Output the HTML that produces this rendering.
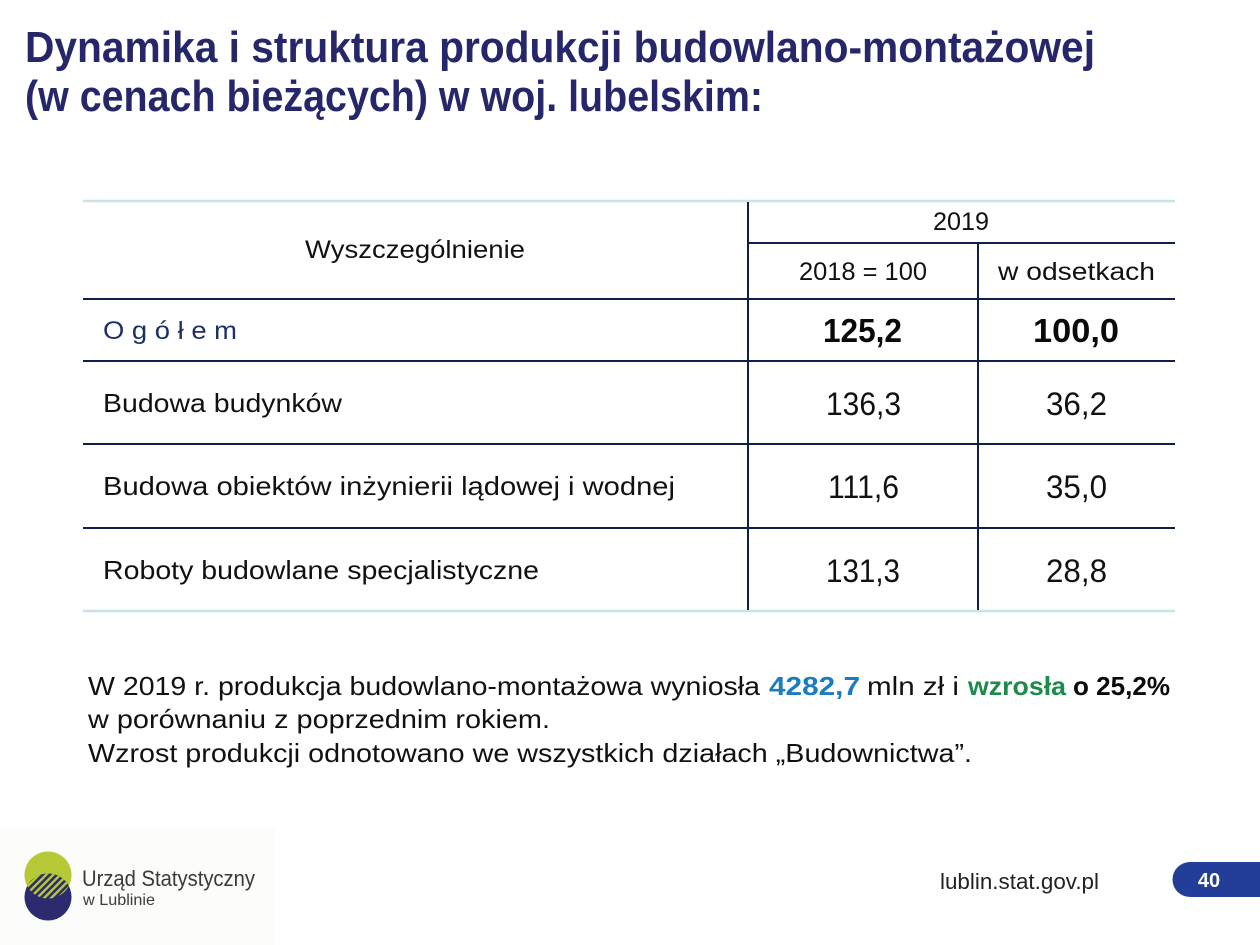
<!DOCTYPE html>
<html>
<head>
<meta charset="utf-8">
<style>
  html,body{margin:0;padding:0;background:#ffffff;}
  svg{display:block;}
  text{font-family:"Liberation Sans","DejaVu Sans",sans-serif;}
</style>
</head>
<body>
<svg width="1260" height="945" viewBox="0 0 1260 945" xmlns="http://www.w3.org/2000/svg">
  <defs>
    <clipPath id="lens">
      <circle cx="48" cy="875" r="23.5"/>
    </clipPath>
    <pattern id="hatch" patternUnits="userSpaceOnUse" width="5" height="5" patternTransform="rotate(45)">
      <rect x="0" y="0" width="5" height="5" fill="#2b2b6e"/>
      <rect x="0" y="0" width="2.4" height="5" fill="#b6c936"/>
    </pattern>
  </defs>

  <rect x="0" y="0" width="1260" height="945" fill="#ffffff"/>

  <!-- Title -->
  <text x="25" y="62" font-size="44" font-weight="bold" fill="#26266a" textLength="1070" lengthAdjust="spacingAndGlyphs">Dynamika i struktura produkcji budowlano-montażowej</text>
  <text x="25" y="111" font-size="44" font-weight="bold" fill="#26266a" textLength="738" lengthAdjust="spacingAndGlyphs">(w cenach bieżących) w woj. lubelskim:</text>

  <!-- Table lines -->
  <line x1="83" y1="201" x2="1175" y2="201" stroke="#c9e4e8" stroke-width="2.5"/>
  <line x1="83" y1="611" x2="1175" y2="611" stroke="#c9e4e8" stroke-width="2.5"/>
  <line x1="748" y1="202" x2="748" y2="610" stroke="#0f1e4a" stroke-width="2"/>
  <line x1="978" y1="243" x2="978" y2="610" stroke="#0f1e4a" stroke-width="2"/>
  <line x1="748" y1="243" x2="1175" y2="243" stroke="#0f1e4a" stroke-width="2"/>
  <line x1="83" y1="299" x2="1175" y2="299" stroke="#0f1e4a" stroke-width="2"/>
  <line x1="83" y1="361" x2="1175" y2="361" stroke="#0f1e4a" stroke-width="2"/>
  <line x1="83" y1="444" x2="1175" y2="444" stroke="#0f1e4a" stroke-width="2"/>
  <line x1="83" y1="528" x2="1175" y2="528" stroke="#0f1e4a" stroke-width="2"/>

  <!-- Header -->
  <text x="305" y="258" font-size="25" fill="#111" textLength="220" lengthAdjust="spacingAndGlyphs">Wyszczególnienie</text>
  <text x="933" y="230" font-size="25" fill="#111" textLength="56" lengthAdjust="spacingAndGlyphs">2019</text>
  <text x="799" y="280" font-size="25" fill="#111" textLength="128" lengthAdjust="spacingAndGlyphs">2018 = 100</text>
  <text x="998" y="280" font-size="25" fill="#111" textLength="157" lengthAdjust="spacingAndGlyphs">w odsetkach</text>

  <!-- Row Ogółem -->
  <text x="103" y="339" font-size="25" fill="#1d2f68" textLength="134" lengthAdjust="spacingAndGlyphs">O g ó ł e m</text>
  <text x="823" y="342" font-size="33" font-weight="bold" fill="#0a0a0a" textLength="79" lengthAdjust="spacingAndGlyphs">125,2</text>
  <text x="1033" y="342" font-size="33" font-weight="bold" fill="#0a0a0a" textLength="86" lengthAdjust="spacingAndGlyphs">100,0</text>

  <!-- Row 1 -->
  <text x="103" y="412" font-size="26" fill="#111" textLength="239" lengthAdjust="spacingAndGlyphs">Budowa budynków</text>
  <text x="826" y="415" font-size="32" fill="#111" textLength="75" lengthAdjust="spacingAndGlyphs">136,3</text>
  <text x="1046" y="415" font-size="32" fill="#111" textLength="61" lengthAdjust="spacingAndGlyphs">36,2</text>

  <!-- Row 2 -->
  <text x="103" y="495" font-size="26" fill="#111" textLength="572" lengthAdjust="spacingAndGlyphs">Budowa obiektów inżynierii lądowej i wodnej</text>
  <text x="828" y="498" font-size="32" fill="#111" textLength="71" lengthAdjust="spacingAndGlyphs">111,6</text>
  <text x="1046" y="498" font-size="32" fill="#111" textLength="61" lengthAdjust="spacingAndGlyphs">35,0</text>

  <!-- Row 3 -->
  <text x="103" y="579" font-size="26" fill="#111" textLength="436" lengthAdjust="spacingAndGlyphs">Roboty budowlane specjalistyczne</text>
  <text x="826" y="582" font-size="32" fill="#111" textLength="74" lengthAdjust="spacingAndGlyphs">131,3</text>
  <text x="1046" y="582" font-size="32" fill="#111" textLength="61" lengthAdjust="spacingAndGlyphs">28,8</text>

  <!-- Paragraph -->
  <text x="88" y="695" font-size="26" fill="#111" textLength="672" lengthAdjust="spacingAndGlyphs">W 2019 r. produkcja budowlano-montażowa wyniosła</text>
  <text x="769" y="695" font-size="26" font-weight="bold" fill="#1b7dc0" textLength="91" lengthAdjust="spacingAndGlyphs">4282,7</text>
  <text x="867" y="695" font-size="26" fill="#111" textLength="92" lengthAdjust="spacingAndGlyphs">mln zł i</text>
  <text x="968" y="695" font-size="26" font-weight="bold" fill="#1e8a4c" textLength="98" lengthAdjust="spacingAndGlyphs">wzrosła</text>
  <text x="1073" y="695" font-size="26" font-weight="bold" fill="#0a0a0a" textLength="97" lengthAdjust="spacingAndGlyphs">o 25,2%</text>
  <text x="88" y="728" font-size="26" fill="#111" textLength="462" lengthAdjust="spacingAndGlyphs">w porównaniu z poprzednim rokiem.</text>
  <text x="88" y="762" font-size="26" fill="#111" textLength="884" lengthAdjust="spacingAndGlyphs">Wzrost produkcji odnotowano we wszystkich działach „Budownictwa”.</text>

  <!-- Footer logo -->
  <rect x="0" y="828" width="275" height="117" fill="#fcfcfa"/>
  <circle cx="48" cy="875" r="23.5" fill="#b6c936"/>
  <circle cx="48" cy="897" r="23.5" fill="#2b2b6e"/>
  <g clip-path="url(#lens)">
    <circle cx="48" cy="897" r="23.5" fill="url(#hatch)"/>
  </g>
  <text x="82" y="886" font-size="22" fill="#3a3a3a" textLength="173" lengthAdjust="spacingAndGlyphs">Urząd Statystyczny</text>
  <text x="83" y="905" font-size="16" fill="#3a3a3a" textLength="72" lengthAdjust="spacingAndGlyphs">w Lublinie</text>

  <!-- Footer right -->
  <text x="940" y="889" font-size="22" fill="#222" textLength="159" lengthAdjust="spacingAndGlyphs">lublin.stat.gov.pl</text>
  <path d="M1190 862 H1260 V897 H1190 A17.5 17.5 0 0 1 1190 862 Z" fill="#233e98"/>
  <text x="1209" y="887" font-size="20" font-weight="bold" fill="#ffffff" text-anchor="middle">40</text>
</svg>
</body>
</html>
